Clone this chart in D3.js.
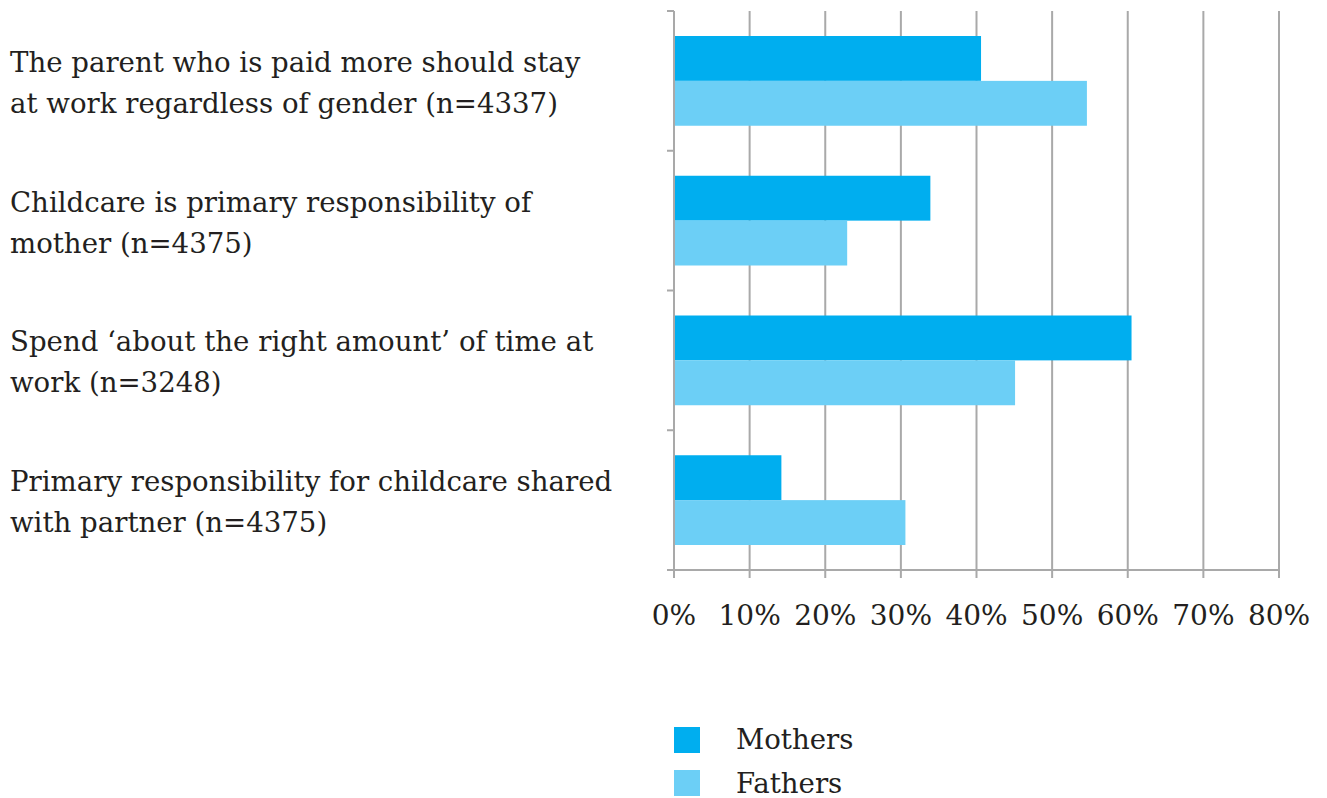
<!DOCTYPE html>
<html><head><meta charset="utf-8">
<script src="https://cdn.jsdelivr.net/npm/d3@7"></script>
<style>body{margin:0;background:#fff}</style>
</head><body>
<svg id="c" width="1327" height="798"></svg>
<script>
const categories = [
  ["The parent who is paid more should stay", "at work regardless of gender (n=4337)"],
  ["Childcare is primary responsibility of", "mother (n=4375)"],
  ["Spend \u2018about the right amount\u2019 of time at", "work (n=3248)"],
  ["Primary responsibility for childcare shared", "with partner (n=4375)"]
];
const seriesNames = ["Mothers", "Fathers"];
const mothers = [40.6, 33.9, 60.5, 14.2];
const fathers = [54.6, 22.9, 45.1, 30.6];
const tickValues = [0, 10, 20, 30, 40, 50, 60, 70, 80];

const colors = ["#00AEEF", "#6CCFF6"];
const font = "'DejaVu Serif', 'Liberation Serif', serif";
const svg = d3.select("#c");
const x = d3.scaleLinear().domain([0, 80]).range([674, 1279]);
const y = d3.scaleBand().domain(d3.range(categories.length)).range([11, 570]);
const inner = d3.scaleBand().domain([0, 1]).range([25, y.bandwidth() - 25]);

// gridlines
svg.append("g").selectAll("line").data(tickValues).join("line")
  .attr("x1", d => x(d)).attr("x2", d => x(d))
  .attr("y1", 11).attr("y2", 578)
  .attr("stroke", "#a9a9a9").attr("stroke-width", 2);

// left axis ticks
const yTicks = d3.range(categories.length + 1).map(i => i < categories.length ? y(i) : 570);
svg.append("g").selectAll("line").data(yTicks).join("line")
  .attr("x1", 667).attr("x2", 674).attr("y1", d => d).attr("y2", d => d)
  .attr("stroke", "#a9a9a9").attr("stroke-width", 2);
svg.append("line").attr("x1", 667).attr("x2", 1280).attr("y1", 570).attr("y2", 570)
  .attr("stroke", "#a9a9a9").attr("stroke-width", 2);

// bars
const data = [mothers, fathers];
data.forEach((vals, s) => {
  svg.append("g").selectAll("rect").data(vals).join("rect")
    .attr("x", x(0) + 1)
    .attr("y", (d, i) => y(i) + inner(s))
    .attr("width", d => x(d) - x(0) - 1)
    .attr("height", inner.bandwidth())
    .attr("fill", colors[s]);
});

// category labels
categories.forEach((lines, i) => {
  const cy = y(i) + y.bandwidth() / 2;
  const t = svg.append("text").attr("x", 10).attr("font-family", font)
    .attr("font-size", 27.6).attr("fill", "#231f20");
  lines.forEach((l, j) => t.append("tspan").attr("x", 10).attr("y", cy - 9 + j * 41).text(l));
});

// tick labels
svg.append("g").selectAll("text").data(tickValues).join("text")
  .attr("x", d => x(d)).attr("y", 625).attr("text-anchor", "middle")
  .attr("font-family", font).attr("font-size", 28).attr("fill", "#231f20")
  .text(d => d + "%");

// legend
seriesNames.forEach((n, i) => {
  svg.append("rect").attr("x", 674).attr("y", 727 + i * 43).attr("width", 26).attr("height", 26).attr("fill", colors[i]);
  svg.append("text").attr("x", 736).attr("y", 749 + i * 44).attr("font-family", font)
    .attr("font-size", 27.6).attr("fill", "#231f20").text(n);
});
</script>
</body></html>
